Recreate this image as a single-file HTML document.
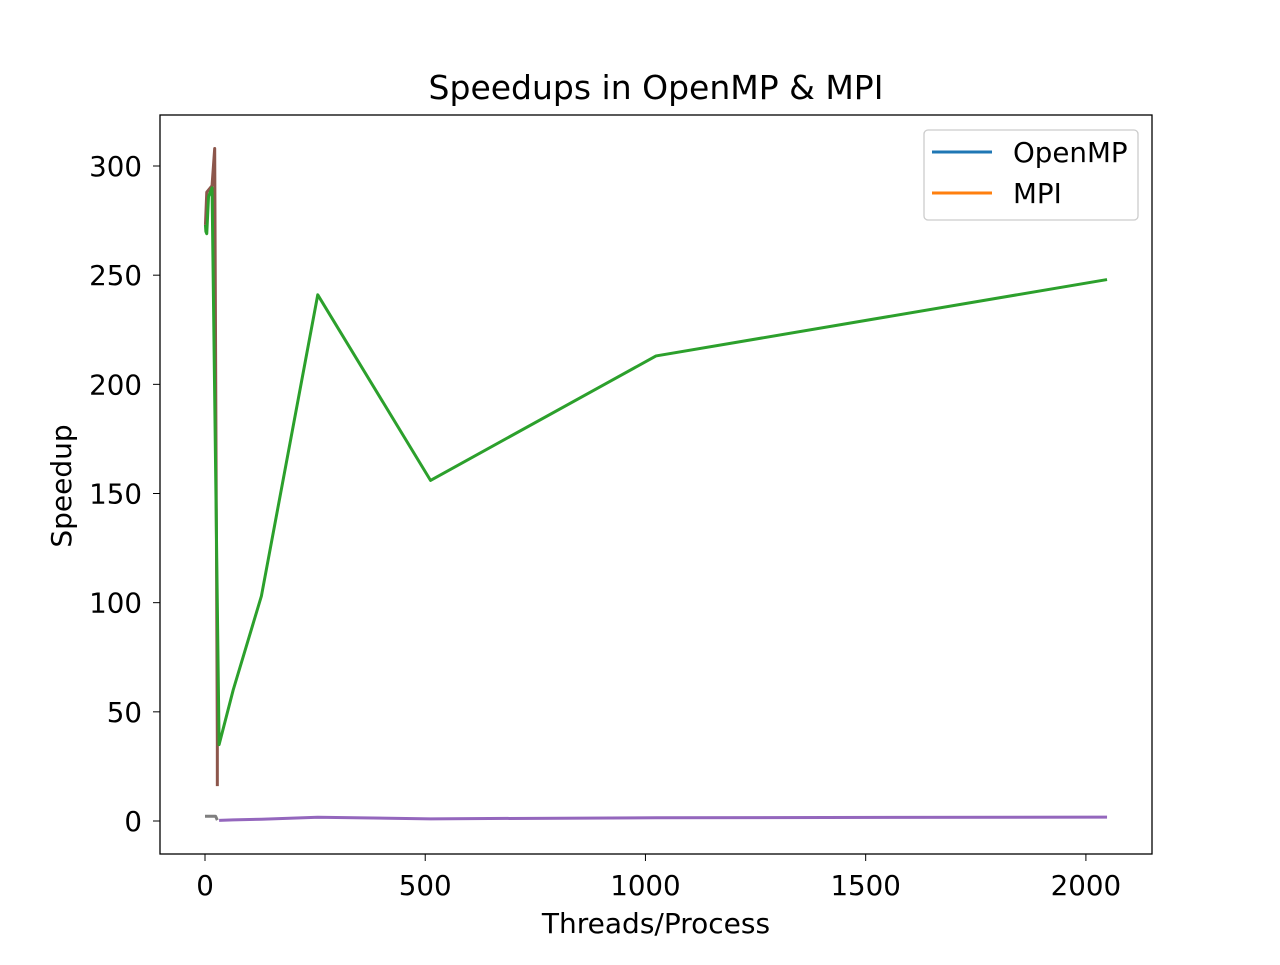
<!DOCTYPE html>
<html><head><meta charset="utf-8"><style>
body{margin:0;background:#fff;}
svg text{font-family:"DejaVu Sans","Liberation Sans",sans-serif;}
</style></head><body>
<svg id="chart" width="1280" height="960" xmlns="http://www.w3.org/2000/svg">
<rect width="1280" height="960" fill="#fff"/>
<text x="656" y="99" font-size="33" text-anchor="middle">Speedups in OpenMP &amp; MPI</text>
<g id="marks"></g>
<rect x="160" y="115" width="992" height="739" fill="none" stroke="#000" stroke-width="1.3"/>
<g id="ticks"></g>
<text x="656" y="933" font-size="28" text-anchor="middle">Threads/Process</text>
<text x="71" y="486" font-size="28" text-anchor="middle" transform="rotate(-90 71 486)">Speedup</text>
<g>
<rect x="924" y="130" width="214" height="90" rx="4" fill="#fff" stroke="#ccc" stroke-width="1.3"/>
<line x1="932" y1="152" x2="992" y2="152" stroke="#1f77b4" stroke-width="3"/>
<text x="1013" y="162" font-size="27.7">OpenMP</text>
<line x1="932" y1="193" x2="992" y2="193" stroke="#ff7f0e" stroke-width="3"/>
<text x="1013" y="203" font-size="27.7">MPI</text>
</g>
</svg>
<script>
const xTicks=[0,500,1000,1500,2000];
const yTicks=[0,50,100,150,200,250,300];
const greenX=[1,2,4,8,16,32,64,128,256,512,1024,2048];
const greenY=[273,270,269,286,290,35,60,103,241,156,213,248];
const brownX=[1,4,16,22,28,28];
const brownY=[273,288,291,308,35,16];
const purpleX=[32,64,128,256,512,1024,2048];
const purpleY=[0.3,0.5,0.8,1.7,1.0,1.5,1.8];
const grayX=[0,4,16,24,28];
const grayY=[2.2,2.2,2.2,2.2,0.4];
const X=v=>205+v*0.44045, Y=v=>821-v*2.1833;
const NS="http://www.w3.org/2000/svg";
const marks=document.getElementById('marks'), ticks=document.getElementById('ticks');
function line(xs,ys,color,name){
  const p=document.createElementNS(NS,'polyline');
  p.setAttribute('points',xs.map((x,i)=>X(x)+','+Y(ys[i])).join(' '));
  p.setAttribute('fill','none');p.setAttribute('stroke',color);p.setAttribute('stroke-width','3');
  p.setAttribute('stroke-linejoin','round');
  
  
  marks.appendChild(p);
}
line(grayX,grayY,'#7f7f7f','series-gray');
line(purpleX,purpleY,'#9467bd','series-purple');
line(brownX,brownY,'#8c564b','series-brown');
line(greenX,greenY,'#2ca02c','series-green');
xTicks.forEach(t=>{
  const l=document.createElementNS(NS,'line');
  l.setAttribute('x1',X(t));l.setAttribute('x2',X(t));l.setAttribute('y1',854);l.setAttribute('y2',861);l.setAttribute('stroke','#000');
  
  
  ticks.appendChild(l);
  const tx=document.createElementNS(NS,'text');
  tx.setAttribute('x',X(t));tx.setAttribute('y',895);tx.setAttribute('font-size','27.7');tx.setAttribute('text-anchor','middle');
  tx.textContent=t;
  
  
  ticks.appendChild(tx);
});
yTicks.forEach(t=>{
  const l=document.createElementNS(NS,'line');
  l.setAttribute('x1',153);l.setAttribute('x2',160);l.setAttribute('y1',Y(t));l.setAttribute('y2',Y(t));l.setAttribute('stroke','#000');
  
  
  ticks.appendChild(l);
  const tx=document.createElementNS(NS,'text');
  tx.setAttribute('x',142);tx.setAttribute('y',Y(t)+10);tx.setAttribute('font-size','27.7');tx.setAttribute('text-anchor','end');
  tx.textContent=t;
  
  
  ticks.appendChild(tx);
});
</script>
</body></html>
